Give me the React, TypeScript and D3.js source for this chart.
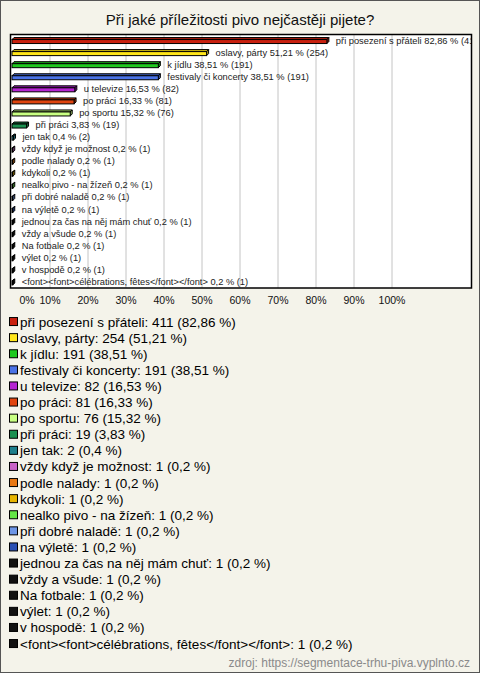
import React from "react";
import * as d3 from "d3";

const categories = [
  "při posezení s přáteli",
  "oslavy, párty",
  "k jídlu",
  "festivaly či koncerty",
  "u televize",
  "po práci",
  "po sportu",
  "při práci",
  "jen tak",
  "vždy když je možnost",
  "podle nalady",
  "kdykoli",
  "nealko pivo - na žízeň",
  "při dobré naladě",
  "na výletě",
  "jednou za čas na něj mám chuť",
  "vždy a všude",
  "Na fotbale",
  "výlet",
  "v hospodě",
  "<font><font>célébrations, fêtes</font></font>",
];
const counts = [411, 254, 191, 191, 82, 81, 76, 19, 2, 1, 1, 1, 1, 1, 1, 1, 1, 1, 1, 1, 1];
const percents = [82.86, 51.21, 38.51, 38.51, 16.53, 16.33, 15.32, 3.83, 0.4, 0.2, 0.2, 0.2, 0.2, 0.2, 0.2, 0.2, 0.2, 0.2, 0.2, 0.2, 0.2];
const colors = [
  "#c8200f", "#ffe61a", "#1ec81e", "#4a72e6", "#b424d2", "#e0440f", "#c8ff82",
  "#1a9050", "#1e7f8c", "#c864c8", "#e87814", "#e6b400", "#64e646", "#6e96e6",
  "#2a50b4", "#111111", "#111111", "#111111", "#111111", "#111111", "#111111",
];
const xTicks = [0, 10, 20, 30, 40, 50, 60, 70, 80, 90, 100];
const title = "Při jaké příležitosti pivo nejčastěji pijete?";
const source = "zdroj: https://segmentace-trhu-piva.vyplnto.cz";

const W = 480;
const H = 673;
const plot = { left: 10.5, right: 471.5, top: 34.5, bottom: 288 };

const fmt = (p: number) => String(p).replace(".", ",");

function shade(c: string, k: number) {
  const col = d3.color(c)!;
  return col.darker(k).formatHex();
}

export default function App() {
  const x = d3.scaleLinear().domain([0, 100]).range([12, 392]);
  const y = d3.scaleBand<string>().domain(categories).range([plot.top, plot.bottom]).padding(0);
  const legendY = d3.scaleBand<string>().domain(categories).range([314, 314 + 16.1 * categories.length]);
  const depth = 2;
  const bh = 4;
  const font = "'Liberation Sans', Arial, sans-serif";

  return (
    <svg width={W} height={H} style={{ position: "absolute", left: 0, top: 0, display: "block" }} fontFamily={font}>
      <defs>
        <clipPath id="plotClip">
          <rect x={plot.left} y={plot.top} width={plot.right - plot.left} height={plot.bottom - plot.top} />
        </clipPath>
      </defs>
      <rect x={0.5} y={0.5} width={W - 1} height={H - 1} fill="#f4f3ea" stroke="#555" />
      <text x={W / 2} y={25} textAnchor="middle" fontSize={15} fill="#111">{title}</text>
      <rect x={plot.left} y={plot.top} width={plot.right - plot.left} height={plot.bottom - plot.top} fill="#fff" />
      {xTicks.filter((t) => t > 0).map((t) => (
        <line key={t} x1={x(t)} x2={x(t)} y1={plot.top} y2={plot.bottom} stroke="#c4c4c4" strokeWidth={1} />
      ))}
      <g clipPath="url(#plotClip)">
        {categories.map((c, i) => {
          const x0 = x(0);
          const x1 = x(percents[i]);
          const cy = y(c)! + y.bandwidth() / 2;
          const top = cy - 1;
          const bot = top + bh;
          const col = colors[i];
          return (
            <g key={c}>
              <polygon
                points={`${x0},${top} ${x0 + depth},${top - depth} ${x1 + depth},${top - depth} ${x1},${top}`}
                fill={shade(col, 0.6)}
                stroke="#000"
                strokeWidth={1}
                strokeLinejoin="round"
              />
              <polygon
                points={`${x1},${top} ${x1 + depth},${top - depth} ${x1 + depth},${bot - depth} ${x1},${bot}`}
                fill={shade(col, 0.9)}
                stroke="#000"
                strokeWidth={1}
                strokeLinejoin="round"
              />
              <rect x={x0} y={top} width={x1 - x0} height={bh} fill={col} stroke="#000" strokeWidth={1} />
              <text x={x1 + depth + 7} y={cy + 3} fontSize={9.3} fill="#222">
                {`${c} ${fmt(percents[i])} % (${counts[i]})`}
              </text>
            </g>
          );
        })}
      </g>
      <rect x={plot.left} y={plot.top} width={plot.right - plot.left} height={plot.bottom - plot.top} fill="none" stroke="#000" strokeWidth={1.5} />
      {xTicks.map((t) => (
        <text key={t} x={t === 0 ? x(t) + 15 : x(t)} y={304} textAnchor="middle" fontSize={10.5} fill="#111">
          {`${t}%`}
        </text>
      ))}
      {categories.map((c, i) => {
        const cy = legendY(c)! + legendY.bandwidth() / 2;
        return (
          <g key={"lg" + c}>
            <rect x={9.5} y={cy - 4.5} width={8} height={8} fill={colors[i]} stroke="#000" strokeWidth={1} />
            <text x={20} y={cy + 4.5} fontSize={13.5} fill="#000">
              {`${c}: ${counts[i]} (${fmt(percents[i])} %)`}
            </text>
          </g>
        );
      })}
      <text x={470} y={667} textAnchor="end" fontSize={12} fill="#8a8a8a">{source}</text>
    </svg>
  );
}
